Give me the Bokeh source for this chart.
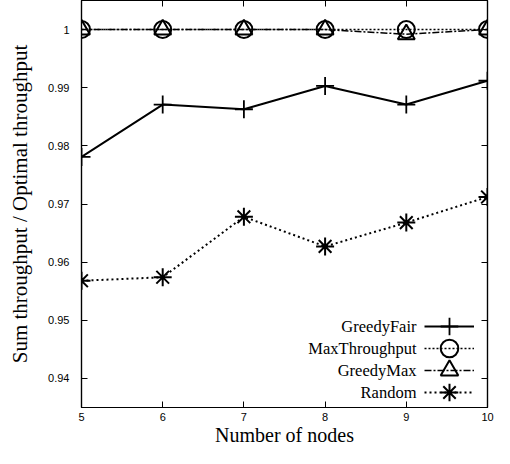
from bokeh.plotting import figure
from bokeh.models import (Range1d, FixedTicker, LinearAxis, Legend, LegendItem,
                          Label, CustomJSTickFormatter)
from bokeh.core.properties import value
from bokeh.embed import file_html
from bokeh.resources import INLINE

nodes = [5, 6, 7, 8, 9, 10]
greedy_fair = [0.9781, 0.9871, 0.9863, 0.9903, 0.9871, 0.9912]
max_throughput = [1.0, 1.0, 1.0, 1.0, 1.0, 1.0]
greedy_max = [1.0, 1.0, 1.0, 1.0, 0.9992, 1.0]
random_sel = [0.9568, 0.9574, 0.9678, 0.9627, 0.9668, 0.9712]
series_names = ["GreedyFair", "MaxThroughput", "GreedyMax", "Random"]
x_ticks = [5, 6, 7, 8, 9, 10]
y_ticks = [0.94, 0.95, 0.96, 0.97, 0.98, 0.99, 1.0]

SERIF = "Liberation Serif"
SANS = "Liberation Sans"

p = figure(width=494, height=448, output_backend="svg", toolbar_location=None,
           title=None,
           x_range=Range1d(5, 10), y_range=Range1d(0.935, 1.005),
           min_border_left=81, min_border_right=7, min_border_top=0,
           min_border_bottom=0, background_fill_color="white",
           border_fill_color="white")
p.grid.visible = False
p.outline_line_color = "black"
p.outline_line_width = 1.2

bottom_axis = p.xaxis[0]
left_axis = p.yaxis[0]

bottom_axis.ticker = FixedTicker(ticks=x_ticks)
left_axis.ticker = FixedTicker(ticks=y_ticks)
left_axis.formatter = CustomJSTickFormatter(code="return String(Math.round(tick*100)/100);")
bottom_axis.axis_label = "Number of nodes"
left_axis.axis_label = "Sum throughput / Optimal throughput"

blank = CustomJSTickFormatter(code="return '';")
top_axis = LinearAxis(ticker=FixedTicker(ticks=x_ticks), formatter=blank)
right_axis = LinearAxis(ticker=FixedTicker(ticks=y_ticks), formatter=blank)
p.add_layout(top_axis, "above")
p.add_layout(right_axis, "right")

for ax in [bottom_axis, left_axis, top_axis, right_axis]:
    ax.axis_line_color = "black"
    ax.axis_line_width = 1.2
    ax.major_tick_in = 6
    ax.major_tick_out = 0
    ax.major_tick_line_color = "black"
    ax.major_tick_line_width = 1
    ax.minor_tick_line_color = None
    ax.major_label_text_font = SANS
    ax.major_label_text_font_size = "11px"
    ax.major_label_text_color = "black"
    ax.axis_label_text_font = SERIF
    ax.axis_label_text_font_style = "normal"
    ax.axis_label_text_color = "black"

for ax in [top_axis, right_axis]:
    ax.major_label_standoff = 0

bottom_axis.major_label_standoff = 5
bottom_axis.axis_label_standoff = 0
bottom_axis.axis_label_text_font_size = "20px"
left_axis.major_label_standoff = 12
left_axis.axis_label_standoff = 13
left_axis.axis_label_text_font_size = "21px"

# GreedyFair
gf_l = p.line(nodes, greedy_fair, line_color="black", line_width=2)
gf_s = p.scatter(nodes, greedy_fair, marker="cross", size=18,
                 line_color="black", line_width=1.8)
# Random
rd_l = p.line(nodes, random_sel, line_color="black", line_width=2,
              line_dash="2 3")
rd_s = p.scatter(nodes, random_sel, marker="asterisk", size=18,
                 line_color="black", line_width=2)
# MaxThroughput
mt_l = p.line(nodes, max_throughput, line_color="black", line_width=1.5,
              line_dash="2 2")
mt_s = p.scatter(nodes, max_throughput, marker="circle", size=17,
                 line_color="black", line_width=2, fill_color=None)
# GreedyMax
gm_l = p.line(nodes, greedy_max, line_color="black", line_width=1.5,
              line_dash="7 2 2 2")
gm_s = p.scatter(nodes, greedy_max, marker="triangle", size=17,
                 line_color="black", line_width=2, fill_color=None)

pairs = [(gf_l, gf_s), (mt_l, mt_s), (gm_l, gm_s), (rd_l, rd_s)]
row_y = [81, 59, 37, 15]
for name, rs, yy in zip(series_names, pairs, row_y):
    lg = Legend(items=[LegendItem(label=value(""), renderers=list(rs))],
                location=(343, yy - 22), glyph_width=50, glyph_height=44,
                label_height=44, label_width=0, label_standoff=0, spacing=0,
                padding=0, margin=0, border_line_color=None,
                background_fill_alpha=0)
    p.add_layout(lg)
    p.add_layout(Label(x=335, y=yy, x_units="screen", y_units="screen",
                       text=name, text_align="right", text_baseline="middle",
                       text_font=SERIF, text_font_size="16.5px",
                       text_color="black"))

open("out.html", "w").write(file_html(p, INLINE))
